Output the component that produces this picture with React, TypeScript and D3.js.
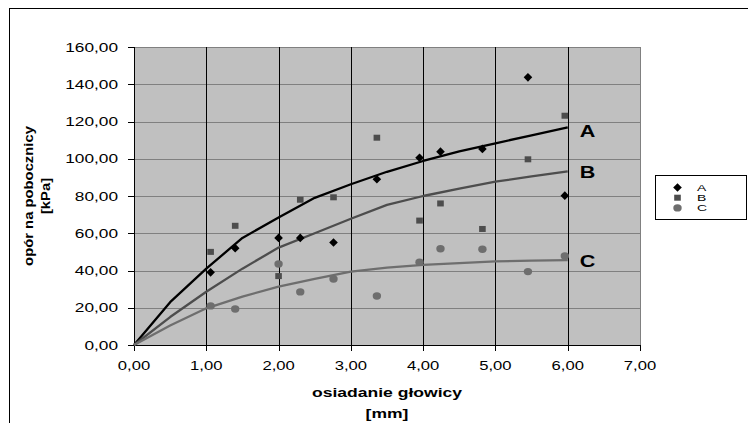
import React from 'react';
import * as d3 from 'd3';

// measured points (settlement in mm, skin friction in kPa)
const settlement = [1.06, 1.4, 2.0, 2.3, 2.76, 3.36, 3.95, 4.24, 4.82, 5.45, 5.96];
const seriesA = [39, 52, 57.5, 57.5, 55, 89, 100.5, 103.8, 105.3, 143.7, 80.2];
const seriesB = [50, 64, 37, 78, 79.3, 111.3, 66.8, 76, 62.3, 99.7, 123.1];
const seriesC = [21, 19.3, 43.5, 28.5, 35.4, 26.3, 44.4, 51.7, 51.4, 39.4, 47.8];

// trend curves
const trendX = [0, 0.5, 1, 1.5, 2, 2.5, 3, 3.5, 4, 4.5, 5, 5.5, 6];
const trendA = [0, 23, 41, 57.5, 68.5, 79, 86.3, 93, 98.8, 104, 108.3, 112.6, 116.9];
const trendB = [0, 15, 28.6, 41, 52.3, 60, 67.8, 75.2, 80, 84, 87.7, 90.5, 93.2];
const trendC = [0, 10.5, 19.7, 26, 31.3, 35.5, 39.4, 41.5, 43, 44, 44.9, 45.3, 45.6];

const seriesNames = ['A', 'B', 'C'];
const xTicks = [0, 1, 2, 3, 4, 5, 6, 7];
const yTicks = [0, 20, 40, 60, 80, 100, 120, 140, 160];

const colors = ['#000000', '#4d4d4d', '#6e6e6e'];
const font = 'Arial, "Liberation Sans", sans-serif';
const SX = 1.35; // Excel text is stretched horizontally

const fmt = (d: number) => d.toFixed(2).replace('.', ',');

const Marker = ({ kind, x, y }: { kind: number; x: number; y: number }) => {
  if (kind === 0) {
    return <path d={`M${x},${y - 4.3}L${x + 4.3},${y}L${x},${y + 4.3}L${x - 4.3},${y}Z`} fill={colors[0]} />;
  }
  if (kind === 1) {
    return <rect x={x - 3.3} y={y - 3} width={6.6} height={6} fill={colors[1]} />;
  }
  return <ellipse cx={x} cy={y} rx={4.2} ry={3.7} fill={colors[2]} />;
};

const SText = ({ x, y, anchor = 'start', size = 13, weight = 'normal', sx = SX, children }: any) => (
  <text
    transform={`translate(${x},${y}) scale(${sx},1)`}
    textAnchor={anchor}
    fontSize={size}
    fontWeight={weight}
    fontFamily={font}
    fill="#000"
  >
    {children}
  </text>
);

export default function App() {
  const left = 134, right = 640, top = 47, bottom = 345;
  const x = d3.scaleLinear().domain([0, 7]).range([left, right]);
  const y = d3.scaleLinear().domain([0, 160]).range([bottom, top]);

  const line = d3.line<number>()
    .x((_, i) => x(trendX[i]))
    .y((d) => y(d))
    .curve(d3.curveLinear);

  const points = [seriesA, seriesB, seriesC];
  const trends = [trendA, trendB, trendC];

  return (
    <svg width={748} height={423} style={{ position: 'absolute', left: 0, top: 0, background: '#fff' }}>
      {/* chart area frame */}
      <rect x={9.5} y={8.5} width={900} height={600} fill="#fff" stroke="#000" strokeWidth={1} />

      {/* plot area */}
      <rect x={left} y={top} width={right - left} height={bottom - top} fill="#c0c0c0" />
      {yTicks.slice(1).map((t) => (
        <line key={'hy' + t} x1={left} x2={right} y1={Math.round(y(t)) + 0.5} y2={Math.round(y(t)) + 0.5} stroke="#808080" />
      ))}
      <line x1={right + 0.5} x2={right + 0.5} y1={top} y2={bottom} stroke="#808080" />
      {xTicks.slice(1, -1).map((t) => (
        <line key={'vx' + t} x1={Math.round(x(t)) + 0.5} x2={Math.round(x(t)) + 0.5} y1={top} y2={bottom} stroke="#000" />
      ))}

      {/* axes */}
      <line x1={left + 0.5} x2={left + 0.5} y1={top} y2={bottom} stroke="#000" />
      <line x1={left} x2={right + 1} y1={bottom + 0.5} y2={bottom + 0.5} stroke="#000" />
      {yTicks.map((t) => (
        <g key={'ty' + t}>
          <line x1={left - 6} x2={left} y1={Math.round(y(t)) + 0.5} y2={Math.round(y(t)) + 0.5} stroke="#000" />
          <SText x={118} y={y(t) + 4.5} anchor="end" size={12.8}>{fmt(t)}</SText>
        </g>
      ))}
      {xTicks.map((t) => (
        <g key={'tx' + t}>
          <line x1={Math.round(x(t)) + 0.5} x2={Math.round(x(t)) + 0.5} y1={bottom} y2={bottom + 6} stroke="#000" />
          <SText x={x(t)} y={370} anchor="middle" size={12.8} sx={1.3}>{fmt(t)}</SText>
        </g>
      ))}

      {/* trend lines */}
      {trends.map((tr, k) => (
        <path key={'l' + k} d={line(tr) || ''} fill="none" stroke={colors[k]} strokeWidth={2.3} strokeLinejoin="round" />
      ))}

      {/* measured points */}
      {points.map((s, k) =>
        s.map((v, i) => <Marker key={`m${k}-${i}`} kind={k} x={x(settlement[i])} y={y(v)} />)
      )}

      {/* curve labels */}
      {trends.map((tr, k) => (
        <SText key={'lab' + k} x={x(6) + 12} y={y(tr[tr.length - 1]) + (k === 0 ? 9.5 : 7)} size={16} weight="bold">
          {seriesNames[k]}
        </SText>
      ))}

      {/* axis titles */}
      <SText x={387} y={397} anchor="middle" size={13} weight="bold">osiadanie głowicy</SText>
      <SText x={387} y={418} anchor="middle" size={13} weight="bold">[mm]</SText>
      <g transform={`translate(33,196) rotate(-90) scale(1.14,1)`}>
        <text textAnchor="middle" fontSize={13} fontWeight="bold" fontFamily={font}>opór na pobocznicy</text>
      </g>
      <g transform={`translate(50,196) rotate(-90) scale(1.14,1)`}>
        <text textAnchor="middle" fontSize={13} fontWeight="bold" fontFamily={font}>[kPa]</text>
      </g>

      {/* legend */}
      <rect x={655.5} y={175.5} width={91} height={44} fill="#fff" stroke="#000" />
      {seriesNames.map((n, k) => (
        <g key={'lg' + n}>
          <Marker kind={k} x={677.5} y={187.5 + k * 10.2} />
          <SText x={697} y={191 + k * 10} size={9.6} sx={1.45}>{n}</SText>
        </g>
      ))}
    </svg>
  );
}
